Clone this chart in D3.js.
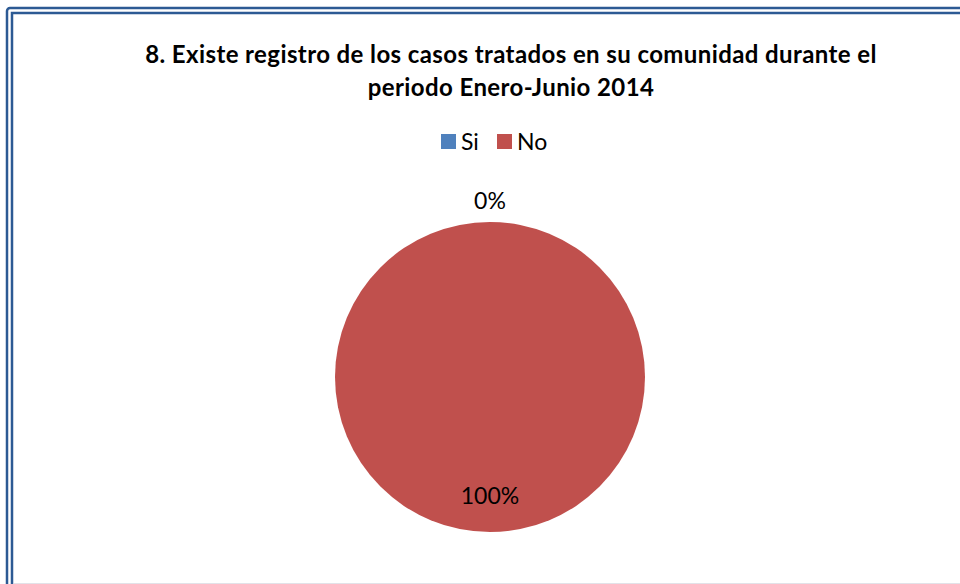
<!DOCTYPE html>
<html>
<head>
<meta charset="utf-8">
<script src="https://cdn.jsdelivr.net/npm/d3@7"></script>
<style>
  body { margin: 0; background: #fff; }
  text { font-family: Lato, "Open Sans", sans-serif; }
</style>
</head>
<body>
<script>
const categories = ["Si", "No"];
const values = [0, 100];
const colors = ["#4f81bd", "#c0504d"];
const titleLines = [
  "8. Existe registro de los casos tratados en su comunidad durante el",
  "periodo Enero-Junio 2014"
];

const width = 960, height = 584;

const svg = d3.select("body").append("svg")
    .attr("width", width)
    .attr("height", height);

// double frame (cropped at right and bottom)
svg.append("rect")
    .attr("x", 7).attr("y", 8)
    .attr("width", 1000).attr("height", 1000)
    .attr("rx", 3)
    .attr("fill", "none")
    .attr("stroke", "#2c5a94")
    .attr("stroke-width", 2.5);
svg.append("rect")
    .attr("x", 12).attr("y", 13)
    .attr("width", 1000).attr("height", 1000)
    .attr("fill", "none")
    .attr("stroke", "#2c5a94")
    .attr("stroke-width", 2.5);
svg.append("line")
    .attr("x1", 14).attr("x2", width)
    .attr("y1", 583.5).attr("y2", 583.5)
    .attr("stroke", "#e2e2e8");

// title
svg.append("g").selectAll("text")
    .data(titleLines)
  .enter().append("text")
    .attr("x", 511)
    .attr("y", (d, i) => 63 + i * 33)
    .attr("text-anchor", "middle")
    .attr("font-size", 24)
    .attr("letter-spacing", 0.4)
    .attr("font-weight", "bold")
    .attr("fill", "#000")
    .text(d => d);

// legend
const color = d3.scaleOrdinal().domain(categories).range(colors);
const legendX = d3.scaleOrdinal().domain(categories).range([441, 497]);
const legend = svg.append("g").selectAll("g")
    .data(categories)
  .enter().append("g")
    .attr("transform", d => `translate(${legendX(d)},134)`);
legend.append("rect")
    .attr("width", 15).attr("height", 15)
    .attr("fill", d => color(d));
legend.append("text")
    .attr("x", 20).attr("y", 16)
    .attr("font-size", 23)
    .text(d => d);

// pie
const cx = 490, cy = 377, r = 155;
const pie = d3.pie().sort(null).value(d => d.value);
const arcs = pie(categories.map((c, i) => ({ cat: c, value: values[i] })));
const arc = d3.arc().innerRadius(0).outerRadius(r);
const g = svg.append("g").attr("transform", `translate(${cx},${cy})`);
g.selectAll("path")
    .data(arcs)
  .enter().append("path")
    .attr("d", arc)
    .attr("fill", d => color(d.data.cat));

const total = d3.sum(values);
const fmt = d3.format(".0%");
g.selectAll(".label")
    .data(arcs)
  .enter().append("text")
    .attr("class", "label")
    .attr("transform", d => {
      const a = (d.startAngle + d.endAngle) / 2;
      const rr = d.value === 0 ? r + 21 : r * 0.77;
      return `translate(${Math.sin(a) * rr},${-Math.cos(a) * rr})`;
    })
    .attr("text-anchor", "middle")
    .attr("dy", "0.35em")
    .attr("font-size", 23)
    .text(d => fmt(d.value / total));
</script>
</body>
</html>
